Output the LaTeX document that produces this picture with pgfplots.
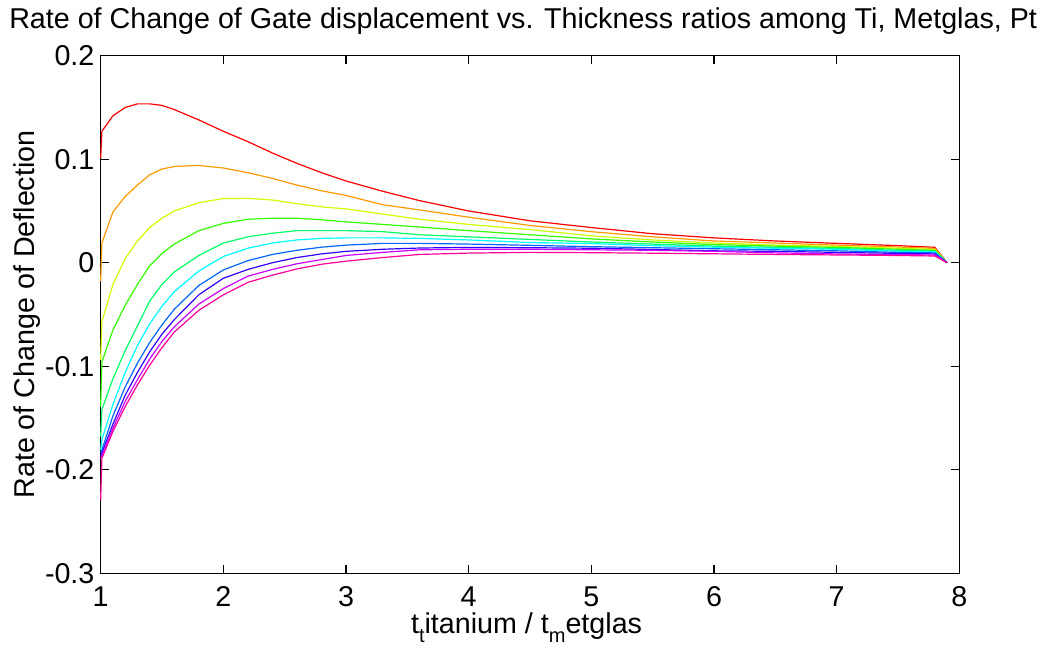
\documentclass[border=0pt]{standalone}
\usepackage{pgfplots}
\pgfplotsset{compat=1.18}
\usepackage{pgfplotstable}
\usepackage{fontspec}
\setmainfont{Liberation Sans}
\newcommand\fs{\fontsize{21.5}{25}\selectfont}
\newcommand\sbs[1]{\raisebox{-0.3em}{\fontsize{15}{15}\selectfont #1}}
\definecolor{c1}{rgb}{1,0,0}
\definecolor{c2}{rgb}{1,0.6,0}
\definecolor{c3}{rgb}{0.8,1,0}
\definecolor{c4}{rgb}{0.2,1,0}
\definecolor{c5}{rgb}{0,1,0.4}
\definecolor{c6}{rgb}{0,1,1}
\definecolor{c7}{rgb}{0,0.4,1}
\definecolor{c8}{rgb}{0.2,0,1}
\definecolor{c9}{rgb}{0.8,0,1}
\definecolor{c10}{rgb}{1,0,0.6}
\pgfplotstableread{
x     r       o       y       g       s       c       a       b       m       p
1.00  0.101  -0.018  -0.094  -0.139  -0.168  -0.181  -0.184  -0.187  -0.189  -0.229
1.01  0.127   0.019  -0.057  -0.096  -0.142  -0.171  -0.181  -0.184  -0.187  -0.189
1.1   0.142   0.049  -0.021  -0.065  -0.112  -0.137  -0.148  -0.156  -0.160  -0.163
1.2   0.150   0.064   0.004  -0.041  -0.085  -0.106  -0.120  -0.128  -0.134  -0.139
1.3   0.1535  0.075   0.021  -0.021  -0.061  -0.080  -0.097  -0.106  -0.113  -0.118
1.4   0.1535  0.085   0.034  -0.003  -0.037  -0.059  -0.077  -0.086  -0.093  -0.099
1.5   0.152   0.0905  0.043   0.009  -0.021  -0.042  -0.060  -0.069  -0.076  -0.082
1.6   0.148   0.093   0.050   0.018  -0.009  -0.028  -0.045  -0.055  -0.062  -0.067
1.8   0.138   0.094   0.058   0.031   0.007  -0.008  -0.022  -0.031  -0.040  -0.046
2.0   0.127   0.0915  0.062   0.038   0.019   0.006  -0.007  -0.015  -0.025  -0.031
2.2   0.117   0.087   0.0622  0.042   0.025   0.014   0.002  -0.0065 -0.013  -0.019
2.4   0.106   0.0815  0.0606  0.043   0.0285  0.019   0.008   0.000  -0.0065 -0.012
2.6   0.096   0.075   0.057   0.043   0.031   0.022   0.012   0.005  -0.001  -0.006
2.8   0.087   0.0695  0.054   0.0415  0.031   0.0235  0.015   0.0085  0.003  -0.0015
3.0   0.079   0.065   0.052   0.0395  0.031   0.024   0.017   0.011   0.007   0.0015
3.3   0.069   0.056   0.047   0.037   0.030   0.024   0.0187  0.013   0.010   0.005
3.6   0.060   0.051   0.042   0.0345  0.027   0.0235  0.0187  0.0142  0.0125  0.008
4.0   0.050   0.044   0.037   0.031   0.025   0.022   0.018   0.0148  0.013   0.0093
4.5   0.0405  0.036   0.032   0.027   0.0225  0.0195  0.0168  0.0145  0.013   0.010
5.0   0.034   0.030   0.026   0.023   0.020   0.0185  0.0155  0.014   0.0125  0.0097
5.5   0.028   0.025   0.022   0.020   0.018   0.0165  0.0145  0.0128  0.012   0.0092
6.0   0.024   0.021   0.019   0.0175  0.016   0.015   0.0135  0.0115  0.011   0.0086
6.5   0.021   0.019   0.017   0.016   0.0148  0.014   0.0125  0.011   0.0095  0.008
7.0   0.0187  0.017   0.0158  0.0148  0.0138  0.013   0.0115  0.010   0.0085  0.0075
7.5   0.0165  0.0152  0.014   0.013   0.012   0.0112  0.010   0.009   0.0078  0.007
7.8   0.0149  0.0138  0.0128  0.012   0.0112  0.0105  0.0095  0.0085  0.0075  0.0065
7.9   0       0       0       0       0       0       0       0       0       0
}\data
\begin{document}
\begin{tikzpicture}
\begin{axis}[
  width=644pt, height=388.1pt, scale only axis,
  xmin=1, xmax=8, ymin=-0.3, ymax=0.2,
  xtick={1,2,3,4,5,6,7,8}, xticklabels={1,2,3,4,5,6,7,8},
  ytick={-0.3,-0.2,-0.1,0,0.1,0.2},
  yticklabels={-0.3,-0.2,-0.1,0,0.1,0.2},
  tick align=inside, major tick length=6.5pt,
  axis line style={line width=0.9pt, black},
  tick style={line width=0.9pt, black},
  ticklabel style={font=\fs},
  xticklabel style={anchor=north, inner sep=0pt, yshift=-10pt},
  yticklabel style={anchor=east, inner sep=0pt, xshift=-4.5pt},
  title={Rate of Change of Gate displacement vs. Thickness ratios among Ti, Metglas, Pt},
  title style={at={(axis description cs:0.492,1.038)}, anchor=base, font=\fs, inner sep=0pt},
  xlabel={t\sbs{t}itanium / t\sbs{m}etglas},
  xlabel style={at={(axis description cs:0.496,-0.117)}, anchor=base, font=\fs, inner sep=0pt},
  ylabel={Rate of Change of Deflection},
  ylabel style={at={(axis description cs:-0.0765,0.5)}, anchor=base, font=\fs, inner sep=0pt},
  clip=false,
  every axis plot/.append style={line width=0.9pt, no markers},
]
\addplot[c1] table[x=x,y=r]{\data};
\addplot[c2] table[x=x,y=o]{\data};
\addplot[c3] table[x=x,y=y]{\data};
\addplot[c4] table[x=x,y=g]{\data};
\addplot[c5] table[x=x,y=s]{\data};
\addplot[c6] table[x=x,y=c]{\data};
\addplot[c7] table[x=x,y=a]{\data};
\addplot[c8] table[x=x,y=b]{\data};
\addplot[c9] table[x=x,y=m]{\data};
\addplot[c10] table[x=x,y=p]{\data};
\end{axis}
\pgfresetboundingbox
\useasboundingbox (current axis.south west) ++(-75.5pt,-54.6pt) rectangle ++(786pt,484.5pt);
\end{tikzpicture}
\end{document}
